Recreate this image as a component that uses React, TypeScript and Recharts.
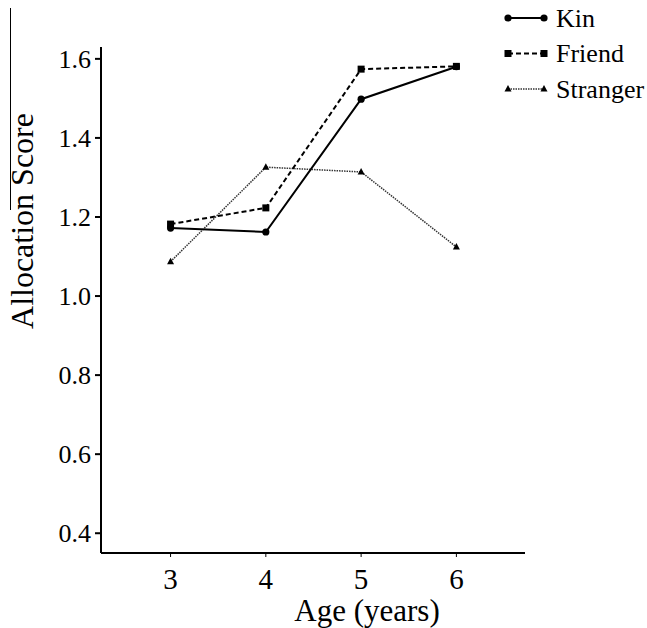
import React from 'react';
import { LineChart, Line, XAxis, YAxis, Label } from 'recharts';

// Ages on the x axis
const AGES = [3, 4, 5, 6];

// Allocation score per age
const KIN = [1.172, 1.162, 1.498, 1.58];
const FRIEND = [1.182, 1.223, 1.574, 1.581];
const STRANGER = [1.087, 1.326, 1.314, 1.124];

const Y_TICKS = [0.4, 0.6, 0.8, 1.0, 1.2, 1.4, 1.6];

const data = AGES.map((age, i) => ({
    age,
    kin: KIN[i],
    friend: FRIEND[i],
    stranger: STRANGER[i]
}));

const FONT = "'Liberation Serif', 'Times New Roman', serif";

const CircleDot = (props: any) => {
    const { cx, cy } = props;
    if (cx == null || cy == null) return null;
    return <circle cx={cx} cy={cy} r={3.6} fill="#000" />;
};

const SquareDot = (props: any) => {
    const { cx, cy } = props;
    if (cx == null || cy == null) return null;
    return <rect x={cx - 3.5} y={cy - 3.5} width={7} height={7} fill="#000" />;
};

const TriangleDot = (props: any) => {
    const { cx, cy } = props;
    if (cx == null || cy == null) return null;
    return <polygon points={`${cx},${cy - 4} ${cx - 3.5},${cy + 2.5} ${cx + 3.5},${cy + 2.5}`} fill="#000" />;
};

const XTick = (props: any) => {
    const { x, y, payload } = props;
    return (
        <text x={x} y={y + 30} textAnchor="middle" fontSize={29} fontFamily={FONT} fill="#000">
            {payload.value}
        </text>
    );
};

const YTick = (props: any) => {
    const { x, y, payload } = props;
    return (
        <text x={x - 2} y={y + 9} textAnchor="end" fontSize={26} fontFamily={FONT} fill="#000">
            {Number(payload.value).toFixed(1)}
        </text>
    );
};

// legend entries, drawn as svg on the top right
const LEGEND = [
    { name: 'Kin', dash: undefined, width: 2, color: '#000', marker: 'circle' },
    { name: 'Friend', dash: '5 3', width: 2, color: '#000', marker: 'square' },
    { name: 'Stranger', dash: '1.5 1', width: 1.5, color: '#333', marker: 'triangle' }
];

const LegendBox = () => (
    <svg width={150} height={110} style={{ position: 'absolute', left: 500, top: 0 }}>
        {LEGEND.map((item, i) => {
            const cy = 18 + i * 35.5;
            return (
                <g key={item.name}>
                    <line x1={8} y1={cy} x2={44} y2={cy} stroke={item.color} strokeWidth={item.width} strokeDasharray={item.dash} />
                    {item.marker === 'circle' && (
                        <>
                            <circle cx={8} cy={cy} r={3.6} fill="#000" />
                            <circle cx={44} cy={cy} r={3.6} fill="#000" />
                        </>
                    )}
                    {item.marker === 'square' && (
                        <>
                            <rect x={4.5} y={cy - 3.5} width={7} height={7} fill="#000" />
                            <rect x={40.5} y={cy - 3.5} width={7} height={7} fill="#000" />
                        </>
                    )}
                    {item.marker === 'triangle' && (
                        <>
                            <polygon points={`8,${cy - 4} 4.5,${cy + 2.5} 11.5,${cy + 2.5}`} fill="#000" />
                            <polygon points={`44,${cy - 4} 40.5,${cy + 2.5} 47.5,${cy + 2.5}`} fill="#000" />
                        </>
                    )}
                    <text x={56} y={cy + 8.5} fontSize={26} fontFamily={FONT} fill="#000">
                        {item.name}
                    </text>
                </g>
            );
        })}
    </svg>
);

export default function App() {
    return (
        <div style={{ position: 'absolute', left: 0, top: 0, width: 647, height: 628, background: '#fff' }}>
            {/* thin crop line at the far left of the scan */}
            <div style={{ position: 'absolute', left: 10, top: 8, width: 1, height: 202, background: '#000' }} />
            <LineChart
                width={647}
                height={628}
                data={data}
                margin={{ top: 47, right: 122, bottom: 0, left: 0 }}
            >
                <XAxis
                    dataKey="age"
                    type="number"
                    domain={[2.27, 6.72]}
                    ticks={AGES}
                    allowDataOverflow
                    height={75}
                    stroke="#000"
                    strokeWidth={2}
                    tickLine={{ stroke: '#000', strokeWidth: 1 }}
                    tickSize={4}
                    tick={<XTick />}
                >
                    <Label
                        content={() => (
                            <text x={367} y={621} textAnchor="middle" fontSize={31} fontFamily={FONT} fill="#000">
                                Age (years)
                            </text>
                        )}
                    />
                </XAxis>
                <YAxis
                    type="number"
                    domain={[0.35, 1.63]}
                    ticks={Y_TICKS}
                    allowDataOverflow
                    width={101}
                    stroke="#000"
                    strokeWidth={2}
                    tickLine={{ stroke: '#000', strokeWidth: 2 }}
                    tickSize={6}
                    tick={<YTick />}
                >
                    <Label
                        content={() => (
                            <text
                                x={33}
                                y={221}
                                transform="rotate(-90 33 221)"
                                textAnchor="middle"
                                fontSize={32}
                                fontFamily={FONT}
                                fill="#000"
                            >
                                Allocation Score
                            </text>
                        )}
                    />
                </YAxis>
                <Line
                    type="linear"
                    dataKey="stranger"
                    stroke="#333"
                    strokeWidth={1.5}
                    strokeDasharray="1.5 1"
                    dot={<TriangleDot />}
                    activeDot={false}
                    isAnimationActive={false}
                />
                <Line
                    type="linear"
                    dataKey="friend"
                    stroke="#000"
                    strokeWidth={2}
                    strokeDasharray="5 3"
                    dot={<SquareDot />}
                    activeDot={false}
                    isAnimationActive={false}
                />
                <Line
                    type="linear"
                    dataKey="kin"
                    stroke="#000"
                    strokeWidth={2}
                    dot={<CircleDot />}
                    activeDot={false}
                    isAnimationActive={false}
                />
            </LineChart>
            <LegendBox />
        </div>
    );
}
